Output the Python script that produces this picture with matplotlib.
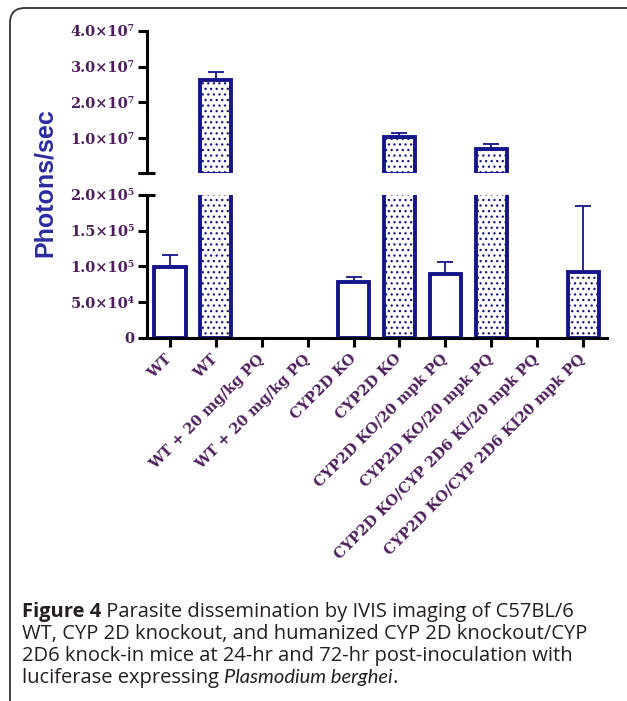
import numpy as np
import matplotlib
matplotlib.use("Agg")
import matplotlib.pyplot as plt
from matplotlib.patches import FancyBboxPatch

# ---------------------------------------------------------------------------
# Dati
# ---------------------------------------------------------------------------
groups = ["WT", "WT", "WT + 20 mg/kg PQ", "WT + 20 mg/kg PQ",
          "CYP2D KO", "CYP2D KO", "CYP2D KO/20 mpk PQ", "CYP2D KO/20 mpk PQ",
          "CYP2D KO/CYP 2D6 KI/20 mpk PQ", "CYP2D KO/CYP 2D6 KI20 mpk PQ"]
hatched = [False, True, False, True, False, True, False, True, False, True]
means = [0.99e5, 2.63e7, 0, 0, 7.9e4, 1.02e7, 8.9e4, 0.68e7, 0, 9.3e4]
err_up = [0.17e5, 0.23e7, 0, 0, 0.7e4, 0.11e7, 1.7e4, 0.14e7, 0, 9.2e4]

top_ticks = [2e5, 1e7, 2e7, 3e7, 4e7]
top_labels = ["", "1.0\u00d710\u2077", "2.0\u00d710\u2077", "3.0\u00d710\u2077", "4.0\u00d710\u2077"]
bot_ticks = [0, 5e4, 1e5, 1.5e5, 2e5]
bot_labels = ["0", "5.0\u00d710\u2074", "1.0\u00d710\u2075", "1.5\u00d710\u2075", "2.0\u00d710\u2075"]

caption = [
    ("Figure 4", " Parasite dissemination by IVIS imaging of C57BL/6"),
    ("", "WT, CYP 2D knockout, and humanized CYP 2D knockout/CYP"),
    ("", "2D6 knock-in mice at 24-hr and 72-hr post-inoculation with"),
    ("", "luciferase expressing "),
]

NAVY = "#15158a"
PURPLE = "#4e1f5c"
BLUE = "#2b2ba0"
W, H = 627, 701

TICKFONT = dict(family=["DejaVu Serif"], weight="bold", size=10.5)
plt.rcParams["hatch.linewidth"] = 0.9

fig = plt.figure(figsize=(W / 100, H / 100), dpi=100)

def fx(px):
    return px / W

def fy(py):
    return 1 - py / H

x0, x1 = 147, 607
ax_top = fig.add_axes([fx(x0), fy(173), fx(x1 - x0), (173 - 31) / H])
ax_bot = fig.add_axes([fx(x0), fy(338), fx(x1 - x0), (338 - 195) / H])

TOP_MIN, BOT_MAX = 2e5, 2e5
x = np.arange(len(groups))
for ax, vmin in ((ax_top, BOT_MAX), (ax_bot, 0)):
    for i in x:
        if means[i] <= vmin:
            continue
        ax.bar(i, means[i], width=0.68, facecolor="white", edgecolor=NAVY,
               linewidth=2.8, hatch="..." if hatched[i] else None, zorder=2)
        ax.errorbar(i, means[i], yerr=[[0], [err_up[i]]], fmt="none",
                    ecolor=NAVY, elinewidth=1.3, capsize=5.5, capthick=1.3, zorder=3)
    ax.set_xlim(-0.5, 9.52)
    for s in ("top", "right"):
        ax.spines[s].set_visible(False)
    for s in ("left", "bottom"):
        ax.spines[s].set_linewidth(2.2)
    ax.tick_params(axis="both", width=2.2, length=6.5, pad=2.5, colors="black")

# crossbar alle estremita' del segmento interrotto
xb = 8 / (x1 - x0)

ax_top.set_ylim(TOP_MIN, 4e7)
ax_top.spines["bottom"].set_visible(False)
ax_top.set_xticks([])
ax_top.set_yticks(top_ticks)
ax_top.set_yticklabels(top_labels, color=PURPLE, **TICKFONT)
ax_top.plot([-xb * 1.1, xb], [0, 0], color="black", lw=2.2,
            transform=ax_top.transAxes, clip_on=False, solid_capstyle="butt")

ax_bot.set_ylim(0, BOT_MAX)
ax_bot.set_yticks(bot_ticks)
ax_bot.set_yticklabels(bot_labels, color=PURPLE, **TICKFONT)
ax_bot.plot([0, xb], [1, 1], color="black", lw=2.2,
            transform=ax_bot.transAxes, clip_on=False, solid_capstyle="butt")
ax_bot.set_xticks(x)
ax_bot.set_xticklabels(groups, rotation=45, ha="right", va="center",
                       rotation_mode="anchor", color=PURPLE, **TICKFONT)
ax_bot.tick_params(axis="x", pad=7)

fig.text(fx(45), fy(183), "Photons/sec", rotation=90, ha="center", va="center",
         color=BLUE, fontsize=18, fontweight="bold", family="Liberation Sans")

# Cornice arrotondata (in pollici, per avere angoli circolari)
frame = FancyBboxPatch((0.10, -0.5), 6.35, H / 100 - 0.08 + 0.5,
                       boxstyle="round,pad=0,rounding_size=0.15",
                       transform=fig.dpi_scale_trans, facecolor="none",
                       edgecolor="#333333", linewidth=1.3, clip_on=False)
fig.add_artist(frame)

# Didascalia
CAP = dict(family="Open Sans", size=14.5, color="#231f20", va="center", ha="left")
ITAL = dict(CAP, family="Lato", style="italic", size=14.5)
line_y = [612, 634, 656, 678]
renderer = fig.canvas.get_renderer()
for (bold, rest), ly in zip(caption, line_y):
    xpos = fx(22)
    if bold:
        t = fig.text(xpos, fy(ly), bold, fontweight="bold", **CAP)
        bb = t.get_window_extent(renderer)
        xpos = bb.x1 / W
    t = fig.text(xpos, fy(ly), rest, **CAP)
    if rest.startswith("luciferase"):
        bb = t.get_window_extent(renderer)
        t2 = fig.text(bb.x1 / W, fy(ly), "Plasmodium berghei", **ITAL)
        bb2 = t2.get_window_extent(renderer)
        fig.text(bb2.x1 / W, fy(ly), ".", **CAP)

fig.savefig("out.png", dpi=100)
